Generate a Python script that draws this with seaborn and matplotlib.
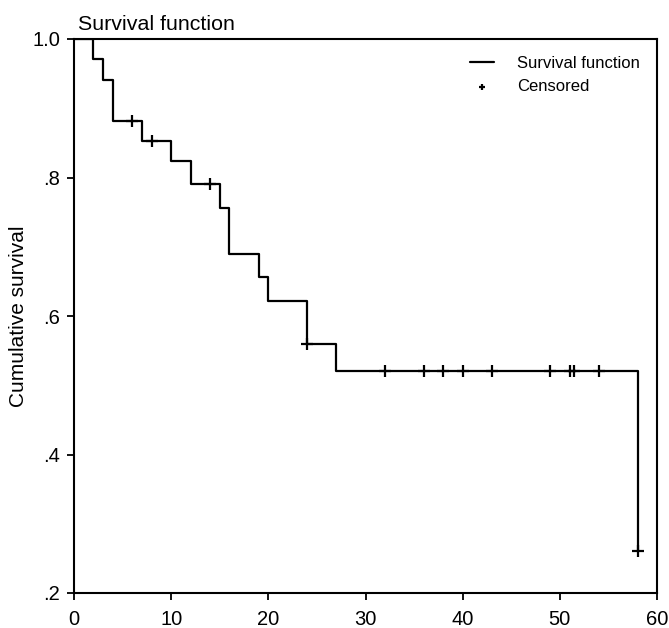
import pandas as pd
import matplotlib.pyplot as plt
import seaborn as sns

# Event times and survival after each step
times = [0, 2, 3, 4, 7, 10, 12, 15, 16, 19, 20, 24, 27, 58]
survival = [1.0, 0.971, 0.941, 0.882, 0.853, 0.824, 0.790, 0.756, 0.689, 0.656, 0.622, 0.560, 0.521, 0.26]

# Censored observations
cens_times = [6, 8, 14, 24, 32, 36, 38, 40, 43, 49, 51, 51.5, 54, 58]
cens_surv = [0.882, 0.853, 0.790, 0.560, 0.521, 0.521, 0.521, 0.521, 0.521, 0.521, 0.521, 0.521, 0.521, 0.26]

df_line = pd.DataFrame({"time": times, "surv": survival})
df_cens = pd.DataFrame({"time": cens_times, "surv": cens_surv})

sns.set_style("ticks")
plt.rcParams["font.family"] = ["Liberation Sans", "DejaVu Sans"]
plt.rcParams["text.color"] = "black"
plt.rcParams["axes.labelcolor"] = "black"
plt.rcParams["axes.edgecolor"] = "black"

fig, ax = plt.subplots(figsize=(6.69, 6.28), dpi=100)
fig.subplots_adjust(left=74/669, right=657/669, top=1-39/628, bottom=1-593/628)

sns.lineplot(data=df_line, x="time", y="surv", drawstyle="steps-post",
             color="black", linewidth=1.6, ax=ax, label="Survival function")
sns.scatterplot(data=df_cens, x="time", y="surv", marker="+", s=75,
                color="black", linewidth=1.6, ax=ax, label="Censored")

ax.set_xlim(0, 60)
ax.set_ylim(0.2, 1.0)
ax.set_xticks([0, 10, 20, 30, 40, 50, 60])
ax.set_yticks([0.2, 0.4, 0.6, 0.8, 1.0])
ax.set_yticklabels([".2", ".4", ".6", ".8", "1.0"])
ax.tick_params(labelsize=14.5, length=5, width=1.3, colors="black")
ax.tick_params(axis="x", pad=7)
ax.tick_params(axis="y", pad=5)
ax.set_xlabel("")
ax.set_ylabel("Cumulative survival", fontsize=15, color="black")
ax.yaxis.set_label_coords(-0.079, 0.5)
for s in ax.spines.values():
    s.set_visible(True)
    s.set_linewidth(1.5)
    s.set_color("black")
fig.text(78/669, 1-30/628, "Survival function", fontsize=15.4, va="baseline",
         ha="left", color="black")

leg = ax.legend(loc="upper right", bbox_to_anchor=(1.0, 1.0), frameon=False,
                fontsize=12, handlelength=1.45, handletextpad=1.4,
                labelspacing=0.5, markerscale=0.55, borderaxespad=0.6)
for t in leg.get_texts():
    t.set_color("black")

plt.savefig("out.png", dpi=100)
